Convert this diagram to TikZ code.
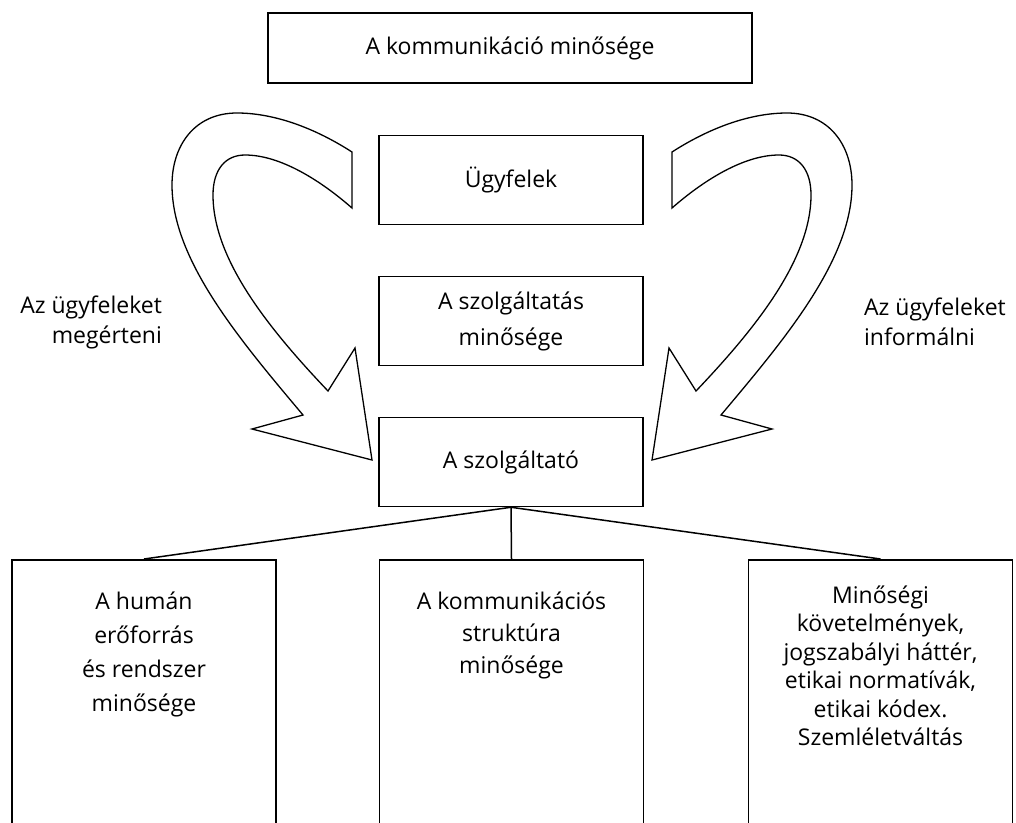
\documentclass[tikz,border=0pt]{standalone}
\usepackage{fontspec}
\setmainfont{Open Sans}
\begin{document}
\begin{tikzpicture}[x=1pt,y=-1pt,line width=1.5pt,
  box/.style={draw,minimum width=264pt,minimum height=89pt,inner sep=0pt,
    font=\fontsize{23}{36}\selectfont,align=center},
  lowbox/.style={draw,anchor=north,minimum width=264pt,inner xsep=0pt,
    inner ysep=32pt,font=\fontsize{23}{34}\selectfont},
  side/.style={font=\fontsize{23}{30}\selectfont}]
\useasboundingbox (0,0) rectangle (1016,822);
\clip (0,0) rectangle (1016,822);
\node[box,minimum width=484pt,minimum height=70pt] (quality) at (510,48) {A kommunikáció minősége};
\node[box] (clients) at (511,180) {Ügyfelek};
\node[box] (service) at (511,321) {A szolgáltatás\\minősége};
\node[box] (provider) at (511,462) {A szolgáltató};
\node[lowbox] (human) at (144,559)
  {\parbox[t][250pt][t]{250pt}{\centering A humán\\erőforrás\\és rendszer\\minősége}};
\node[lowbox] (structure) at (511.5,559)
  {\parbox[t][250pt][t]{250pt}{\centering\baselineskip=32pt A kommunikációs\\struktúra\\minősége}};
\node[lowbox] (norms) at (880.5,559)
  {\parbox[t][250pt][t]{250pt}{\vspace*{-6pt}\centering\baselineskip=28.5pt Minőségi\\követelmények,\\jogszabályi háttér,\\etikai normatívák,\\etikai kódex.\\Szemléletváltás}};
\draw (provider.south) -- (human.north);
\draw (provider.south) -- (structure.north);
\draw (provider.south) -- (norms.north);
\foreach \s in {1,-1}
  \draw[line width=1.3pt,fill=white,xshift=512pt,xscale=\s]
    (-160,152) .. controls (-202,125) and (-242,113) .. (-275,113)
    .. controls (-317,113) and (-340,145) .. (-340,185)
    .. controls (-340,260) and (-272,340) .. (-209,415)
    -- (-260,429) -- (-140,460) -- (-157,348) -- (-184,391)
    .. controls (-242,330) and (-299,260) .. (-299,195)
    .. controls (-299,170) and (-287,155) .. (-267,155)
    .. controls (-232,155) and (-192,180) .. (-160,208) -- cycle;
\node[side,anchor=east,align=right] (understand) at (166,322) {Az ügyfeleket\\megérteni};
\node[side,anchor=west,align=left] (inform) at (860,322) {Az ügyfeleket\\informálni};
\end{tikzpicture}
\end{document}
